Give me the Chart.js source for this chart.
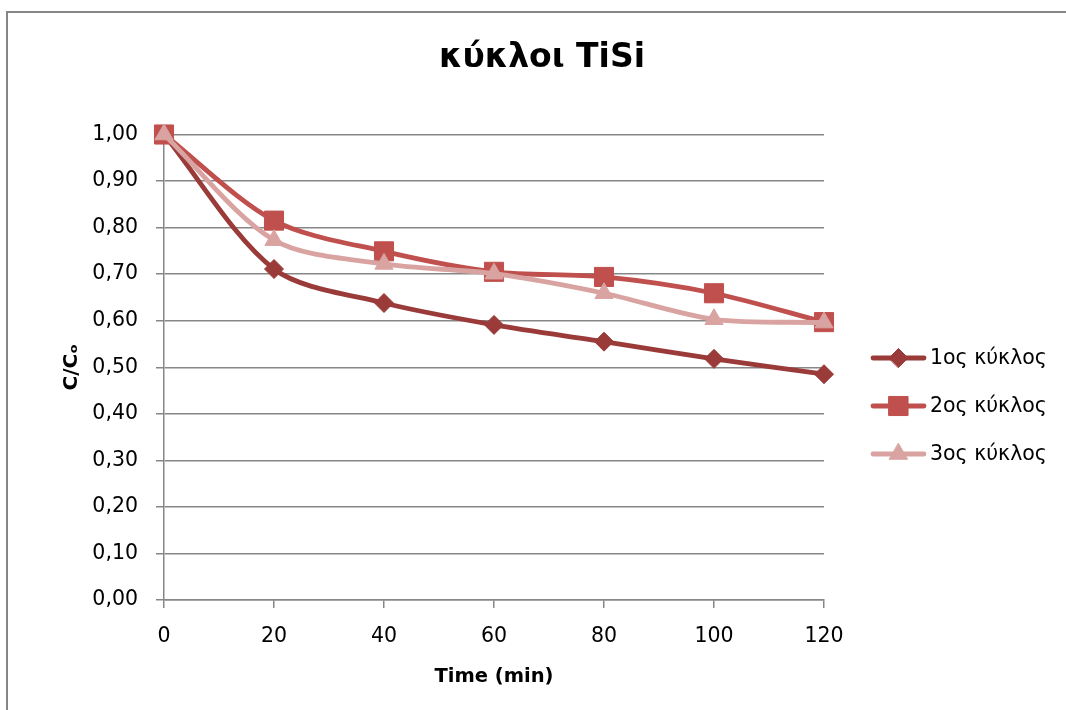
<!DOCTYPE html>
<html>
<head>
<meta charset="utf-8">
<script src="https://cdn.jsdelivr.net/npm/chart.js@4/dist/chart.umd.min.js"></script>
<style>
  html, body { margin: 0; padding: 0; background: #fff; }
  #wrap { width: 1066px; height: 710px; position: relative; }
</style>
</head>
<body>
<div id="wrap"><canvas id="c" width="1066" height="710"></canvas></div>
<script>
// Sampling times (min)
const times = [0, 20, 40, 60, 80, 100, 120];
// Normalised concentration C/Co for each cycle
const cycle1 = [1.00, 0.711, 0.638, 0.591, 0.555, 0.518, 0.485];
const cycle2 = [1.00, 0.815, 0.749, 0.705, 0.694, 0.659, 0.597];
const cycle3 = [1.00, 0.773, 0.722, 0.701, 0.659, 0.603, 0.596];
const seriesNames = ['1ος κύκλος', '2ος κύκλος', '3ος κύκλος'];
const yTicks = [0, 0.1, 0.2, 0.3, 0.4, 0.5, 0.6, 0.7, 0.8, 0.9, 1.0];
const chartTitle = 'κύκλοι TiSi';

const FONT = "'DejaVu Sans', 'Open Sans', sans-serif";
const GRID = '#878787';

const colors = ['#9A3B39', '#C0504D', '#D9A3A1'];
const styles = [
  { pointStyle: 'rectRot', radius: 9.5 },
  { pointStyle: 'rect', radius: 13.5 },
  { pointStyle: 'triangle', radius: 10.5 }
];
const values = [cycle1, cycle2, cycle3];

const datasets = values.map((vals, i) => ({
  label: seriesNames[i],
  data: times.map((t, k) => ({ x: t, y: vals[k] })),
  borderColor: colors[i],
  backgroundColor: colors[i],
  pointBackgroundColor: colors[i],
  pointBorderColor: colors[i],
  pointBorderWidth: 1,
  borderWidth: 4.8,
  tension: 0.3,
  pointStyle: styles[i].pointStyle,
  pointRadius: styles[i].radius,
  pointHoverRadius: styles[i].radius,
  order: 3 - i,
  clip: false
}));

// White background, outer frame and chart heading
const framePlugin = {
  id: 'frame',
  beforeDraw(chart) {
    const ctx = chart.ctx;
    ctx.save();
    ctx.fillStyle = '#fff';
    ctx.fillRect(0, 0, chart.width, chart.height);
    ctx.strokeStyle = '#868686';
    ctx.lineWidth = 2;
    ctx.strokeRect(7, 12, 1200, 900);
    ctx.fillStyle = '#000';
    ctx.font = 'bold 33px ' + FONT;
    ctx.textAlign = 'center';
    ctx.textBaseline = 'alphabetic';
    ctx.fillText(chartTitle, 542, 67);
    ctx.restore();
  }
};

// Legend on the right: line segment with marker, then the series name
const sideLegend = {
  id: 'sideLegend',
  afterDraw(chart) {
    const ctx = chart.ctx;
    const x0 = 871, x1 = 926, ys = [358, 406, 454];
    ctx.save();
    chart.data.datasets.forEach((ds, i) => {
      const y = ys[i];
      ctx.strokeStyle = ds.borderColor;
      ctx.lineWidth = 4.8;
      ctx.lineCap = 'round';
      ctx.beginPath();
      ctx.moveTo(x0 + 2, y);
      ctx.lineTo(x1 - 2, y);
      ctx.stroke();
      ctx.fillStyle = ds.pointBackgroundColor;
      ctx.strokeStyle = ds.pointBorderColor;
      ctx.lineWidth = 1;
      Chart.helpers.drawPoint(ctx, { pointStyle: ds.pointStyle, rotation: 0, borderWidth: 1, radius: ds.pointRadius }, (x0 + x1) / 2, y);
      ctx.fillStyle = '#000';
      ctx.font = '20.5px ' + FONT;
      ctx.textBaseline = 'middle';
      ctx.textAlign = 'left';
      ctx.fillText(ds.label, 930, y + 1);
    });
    ctx.restore();
  }
};

new Chart(document.getElementById('c'), {
  type: 'line',
  data: { datasets },
  options: {
    responsive: false,
    animation: false,
    events: [],
    layout: { padding: { left: 0, right: 242, top: 134.5, bottom: 0 } },
    plugins: {
      legend: { display: false },
      tooltip: { enabled: false },
      title: { display: false }
    },
    scales: {
      x: {
        type: 'linear',
        min: 0,
        max: 120,
        afterFit(scale) { scale.height = 110; },
        ticks: {
          stepSize: 20,
          color: '#000',
          padding: 16,
          font: { family: FONT, size: 20.5 },
          maxRotation: 0
        },
        grid: { drawOnChartArea: false, drawTicks: true, tickLength: 8, color: GRID, lineWidth: 1.5 },
        border: { display: true, color: GRID, width: 1.5 },
        title: {
          display: true,
          text: 'Time (min)',
          color: '#000',
          font: { family: FONT, size: 19.5, weight: 'bold', lineHeight: 1.2 },
          padding: { top: 0, bottom: 21 }
        }
      },
      y: {
        min: 0,
        max: 1,
        afterFit(scale) { scale.width = 164; },
        afterBuildTicks(scale) { scale.ticks = yTicks.map(v => ({ value: v })); },
        ticks: {
          color: '#000',
          padding: 18,
          font: { family: FONT, size: 20.5 },
          callback: v => Number(v).toFixed(2).replace('.', ',')
        },
        grid: { drawTicks: true, tickLength: 8, color: GRID, lineWidth: 1.5 },
        border: { display: true, color: GRID, width: 1.5 },
        title: {
          display: true,
          text: 'C/Cₒ',
          color: '#000',
          font: { family: FONT, size: 20, weight: 'bold', lineHeight: 1.2 },
          padding: { top: 60, bottom: 0 }
        }
      }
    }
  },
  plugins: [framePlugin, sideLegend]
});
</script>
</body>
</html>
